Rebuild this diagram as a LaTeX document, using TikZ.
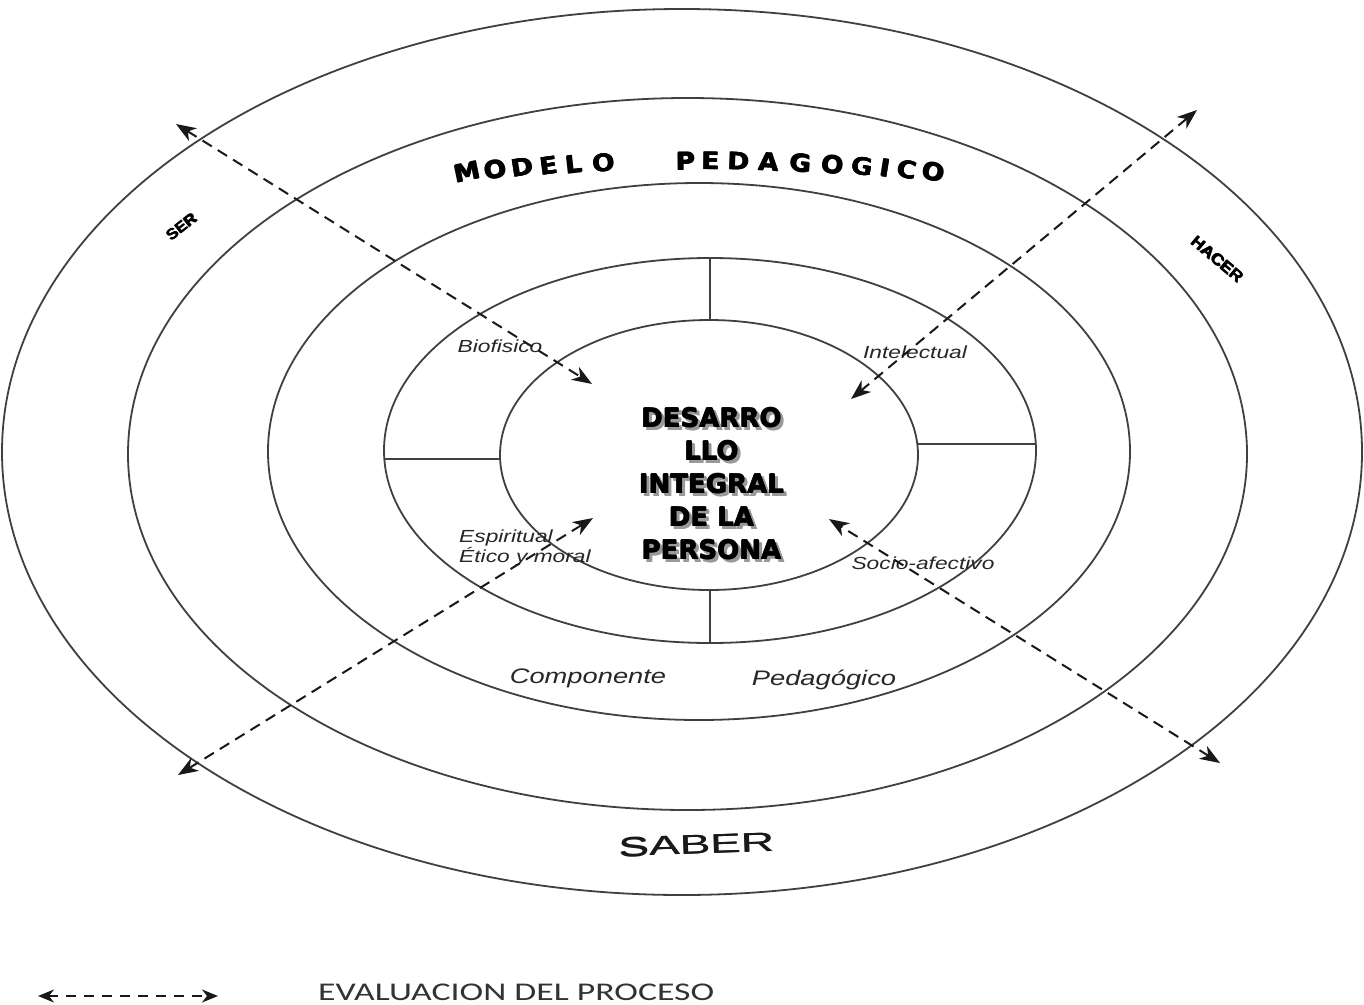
\documentclass[tikz,border=0pt]{standalone}
\usepackage{fontspec}
\setmainfont[FakeStretch=1.3]{Liberation Sans}
\newfontfamily\heavy{DejaVu Sans}
\newfontfamily\modelfont[FakeStretch=1.1]{DejaVu Sans}
\newfontfamily\calib[FakeStretch=1.4]{Carlito}
\newfontfamily\saberfont[FakeStretch=1.7]{Liberation Sans}
\newfontfamily\cornerfont[FakeStretch=1.1]{Liberation Sans}
\usetikzlibrary{arrows.meta}
% heavier text: the same glyphs laid a little apart
\newcommand{\heavytext}[1]{\makebox[0pt][l]{\hspace*{0.9pt}#1}\makebox[0pt][l]{\hspace*{0.45pt}\raisebox{0.5pt}{#1}}#1}
\newcommand{\shtext}[1]{\makebox[0pt][l]{\hspace*{3pt}\raisebox{-3pt}{\textcolor{black!40}{\heavytext{#1}}}}\heavytext{#1}}
\tikzset{
  ring/.style={draw=black!75, line width=1.8pt},
  divider/.style={draw=black!75, line width=1.8pt},
  evalarrow/.style={draw=black!90, line width=2pt, dash pattern=on 11pt off 7pt,
    {Stealth[length=20pt,width=15pt,inset=6pt]}-{Stealth[length=20pt,width=15pt,inset=6pt]}},
  smalllabel/.style={font=\itshape\fontsize{17.5}{20}\selectfont, text=black!85, inner sep=0pt},
  complabel/.style={font=\itshape\fontsize{21}{24}\selectfont, text=black!85, inner sep=0pt},
  centertext/.style={font=\heavy\bfseries\fontsize{26}{33}\selectfont, align=center, inner sep=0pt},
  modelletter/.style={font=\modelfont\bfseries\fontsize{24}{28}\selectfont, inner sep=0pt},
}
\begin{document}
\begin{tikzpicture}[x=1pt,y=-1pt]
\useasboundingbox[fill=white] (0,0) rectangle (1364,1004);

% concentric ellipses
\draw[ring] (682,452) ellipse [x radius=680, y radius=443];
\draw[ring] (687.5,454) ellipse [x radius=559.5, y radius=356];
\draw[ring] (699,451.5) ellipse [x radius=431, y radius=268.5];
\draw[ring] (710,450.5) ellipse [x radius=326, y radius=192.5];
\draw[ring] (709,455) ellipse [x radius=209, y radius=135];

% dividers of the component ring
\coordinate (dt1) at (710,258); \coordinate (dt2) at (710,320);
\coordinate (db1) at (710,590); \coordinate (db2) at (710,643);
\coordinate (dl1) at (384,459); \coordinate (dl2) at (500,459);
\coordinate (dr1) at (918,444); \coordinate (dr2) at (1036,444);
\draw[divider] (dt1) -- (dt2);
\draw[divider] (db1) -- (db2);
\draw[divider] (dl1) -- (dl2);
\draw[divider] (dr1) -- (dr2);

% centre text with shadow
\node[centertext] (centre) at (711,485) {\shtext{DESARRO}\\\shtext{LLO}\\\shtext{INTEGRAL}\\\shtext{DE LA}\\\shtext{PERSONA}};

% component labels
\node[smalllabel] (bio) at (500,346) {Biofisico};
\node[smalllabel] (inte) at (915,352) {Intelectual};
\node[smalllabel, align=left, anchor=north west, font=\itshape\fontsize{17.5}{20}\selectfont] (espi) at (459,530) {Espiritual\\Ético y moral};
\node[smalllabel] (socio) at (923,563) {Socio-afectivo};
\node[complabel] (comp) at (588,678) {Componente};
\node[complabel] (peda) at (824,680) {Pedagógico};

% outer labels
\node[font=\saberfont\fontsize{27}{30}\selectfont, inner sep=0pt, rotate=2, text=black!90] (saber) at (696,845) {\makebox[0pt][l]{\hspace*{0.6pt}SABER}SABER};
\node[font=\cornerfont\bfseries\fontsize{15}{17}\selectfont, inner sep=0pt, rotate=38] (ser) at (181,227) {\heavytext{SER}};
\node[font=\cornerfont\bfseries\fontsize{16}{18}\selectfont, inner sep=0pt, rotate=-40] (hacer) at (1217,259) {\heavytext{HACER}};

% MODELO PEDAGOGICO along an arc
\foreach \l/\x [count=\i] in {M/467,O/495,D/522,E/548,L/573,O/603,P/685,E/710,D/738,A/768,G/800,O/832,G/862,I/885,C/907,O/933}{
  \node[modelletter, rotate={-(\x-700)*0.05}] (ml\i) at (\x,{161+0.0002*(\x-700)*(\x-700)}) {\heavytext{\l}};
}

% evaluation arrows
\coordinate (a1s) at (176,124); \coordinate (a1e) at (592,384);
\coordinate (a2s) at (1197,110); \coordinate (a2e) at (851,399);
\coordinate (a3s) at (178,775); \coordinate (a3e) at (593,518);
\coordinate (a4s) at (1220,763); \coordinate (a4e) at (829,519);
\draw[evalarrow] (a1s) -- (a1e);
\draw[evalarrow] (a2s) -- (a2e);
\draw[evalarrow] (a3s) -- (a3e);
\draw[evalarrow] (a4s) -- (a4e);

% legend
\coordinate (lg1) at (38,996); \coordinate (lg2) at (218,996);
\draw[evalarrow, line width=1.7pt, dash pattern=on 10pt off 8pt, {Stealth[length=16pt,width=13pt,inset=5pt]}-{Stealth[length=16pt,width=13pt,inset=5pt]}] (lg1) -- (lg2);
\node[font=\calib\fontsize{25.5}{28}\selectfont, anchor=base west, inner sep=0pt, text=black!80] (legend) at (318,1000) {EVALUACION DEL PROCESO};
\end{tikzpicture}
\end{document}
